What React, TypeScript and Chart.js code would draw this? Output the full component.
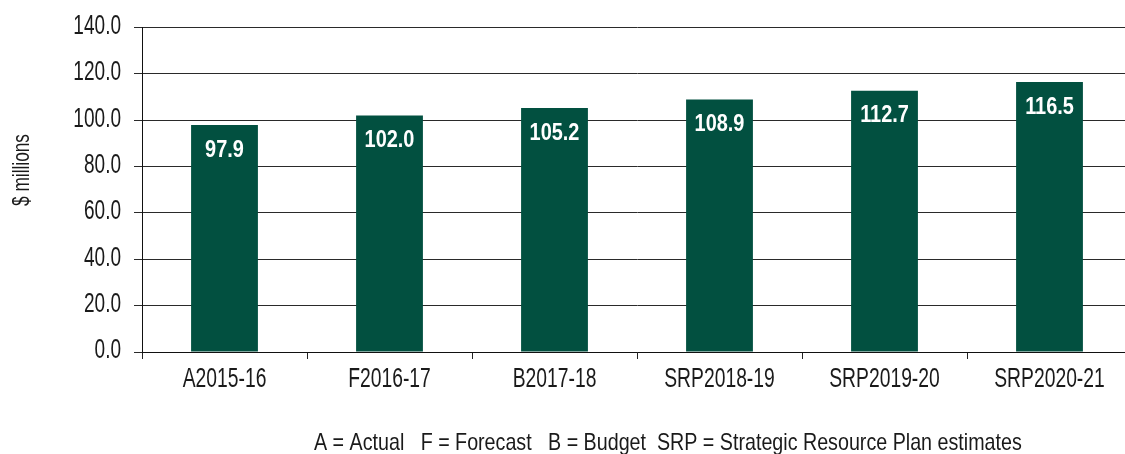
import React, { useEffect, useRef } from "react";
import { Chart, registerables } from "chart.js";

Chart.register(...registerables);

const categories = ["A2015-16", "F2016-17", "B2017-18", "SRP2018-19", "SRP2019-20", "SRP2020-21"];
const values = [97.9, 102.0, 105.2, 108.9, 112.7, 116.5];
const yTicks = [0, 20, 40, 60, 80, 100, 120, 140];
const yTitle = "$ millions";
const footnote = "A = Actual   F = Forecast   B = Budget  SRP = Strategic Resource Plan estimates";

const FONT = "'Liberation Sans', Arial, sans-serif";
const BAR = "#025040";
const TEXT = "#1a1a1a";

function narrowText(ctx: any, text: string, x: number, y: number, align: string, baseline: string, font: string, color: string, sx: number) {
  ctx.save();
  ctx.font = font;
  ctx.fillStyle = color;
  ctx.textAlign = align;
  ctx.textBaseline = baseline;
  ctx.translate(x, y);
  ctx.scale(sx, 1);
  ctx.fillText(text, 0, 0);
  ctx.restore();
}

const overlay = {
  id: "overlay",
  afterDatasetsDraw(chart: any) {
    const ctx = chart.ctx;
    const meta = chart.getDatasetMeta(0);
    meta.data.forEach((bar: any, i: number) => {
      narrowText(ctx, values[i].toFixed(1), bar.x, bar.y + 25, "center", "middle", `bold 24px ${FONT}`, "#ffffff", 0.83);
    });
  },
  afterDraw(chart: any) {
    const ctx = chart.ctx;
    const area = chart.chartArea;
    const xs = chart.scales.x;
    const ys = chart.scales.y;
    categories.forEach((c, i) => {
      narrowText(ctx, c, xs.getPixelForTick(i), 380, "center", "middle", `27px ${FONT}`, TEXT, 0.715);
    });
    yTicks.forEach((v) => {
      narrowText(ctx, v.toFixed(1), area.left - 21, ys.getPixelForValue(v) - 1, "right", "middle", `27px ${FONT}`, TEXT, 0.705);
    });
    narrowText(ctx, footnote, area.left + 172, 450, "left", "alphabetic", `24px ${FONT}`, TEXT, 0.82);
    ctx.save();
    ctx.translate(22, 170);
    ctx.rotate(-Math.PI / 2);
    ctx.scale(0.72, 1);
    ctx.font = `24px ${FONT}`;
    ctx.fillStyle = TEXT;
    ctx.textAlign = "center";
    ctx.textBaseline = "middle";
    ctx.fillText(yTitle, 0, 0);
    ctx.restore();
  },
};

export default function App() {
  const ref = useRef<HTMLCanvasElement>(null);
  useEffect(() => {
    const chart = new Chart(ref.current!, {
      type: "bar",
      data: {
        labels: categories,
        datasets: [
          {
            data: values,
            backgroundColor: BAR,
            borderWidth: 0,
            categoryPercentage: 1,
            barPercentage: 0.405,
          },
        ],
      },
      options: {
        animation: false,
        responsive: false,
        devicePixelRatio: 1,
        layout: { padding: { left: 0, right: 8, top: 24, bottom: 0 } },
        plugins: { legend: { display: false }, tooltip: { enabled: false } },
        scales: {
          x: {
            offset: true,
            grid: {
              offset: true,
              drawOnChartArea: false,
              drawTicks: true,
              tickLength: 7,
              color: "#222",
              lineWidth: 1,
            },
            border: { display: true, color: "#111", width: 1 },
            ticks: {
              color: "rgba(0,0,0,0)",
              font: { family: FONT, size: 24 },
              padding: 8,
              maxRotation: 0,
              autoSkip: false,
            },
            afterFit: (s: any) => {
              s.height = 102;
            },
          },
          y: {
            min: 0,
            max: 140,
            afterBuildTicks: (s: any) => {
              s.ticks = yTicks.map((v) => ({ value: v }));
            },
            grid: {
              color: "#2a2a2a",
              lineWidth: 1,
              tickLength: 8,
              drawTicks: true,
            },
            border: { display: true, color: "#111", width: 1 },
            ticks: {
              color: "rgba(0,0,0,0)",
              font: { family: FONT, size: 24 },
              padding: 13,
              callback: (v: any) => Number(v).toFixed(1),
            },
            afterFit: (s: any) => {
              s.width = 142;
            },
          },
        },
      },
      plugins: [overlay],
    });
    return () => chart.destroy();
  }, []);
  return (
    <div style={{ position: "absolute", left: 0, top: 0, width: 1125, height: 454, overflow: "hidden", background: "#fff" }}>
      <canvas ref={ref} width={1140} height={454} style={{ width: 1140, height: 454, display: "block" }} />
    </div>
  );
}
